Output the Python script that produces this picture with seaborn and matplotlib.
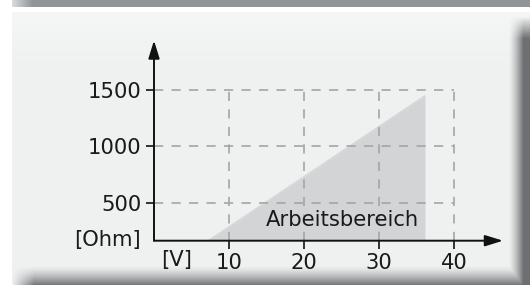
import seaborn as sns
import matplotlib.pyplot as plt
import numpy as np

# chart data
volts = [7.2, 36.1]          # working range, left / right edge [V]
ohm_top = [162.5, 1450]      # upper edge of the working range [Ohm]
x_ticks = [10, 20, 30, 40]
y_ticks = [500, 1000, 1500]
x_lim = (0, 46.5)
y_lim = (162.5, 1940)
x_unit = '[V]'
y_unit = '[Ohm]'
area_label = 'Arbeitsbereich'

sns.set_theme(style='white')
plt.rcParams['font.family'] = ['DejaVu Sans']
FS = 15.2

W, H = 530, 285
fig = plt.figure(figsize=(W / 100, H / 100), dpi=100)

# background: grey bar on top, light panel with soft shadow at bottom/right
bg = np.ones((H, W, 3))
yy, xx = np.mgrid[0:H, 0:W]
panel = np.array([0.941, 0.945, 0.945])
bg[12:, 12:] = panel
top_light = np.clip((60 - yy) / 60, 0, 1)[..., None] * 0.025
bg[12:, 12:] = np.clip(bg[12:, 12:] + top_light[12:, 12:], 0, 1)
# bottom shadow
sb = np.clip((yy - 265) / 20, 0, 1) ** 1.4
# right shadow
sr = np.clip((xx - 508) / 15, 0, 1) ** 1.4
sr = sr * np.clip((yy - 16) / 22, 0, 1)
sb = sb * np.clip((xx - 12) / 22, 0, 1)
shade = np.maximum(sb, sr)[..., None]
dark = np.array([0.43, 0.44, 0.45])
region = (yy >= 12) & (xx >= 12)
bg[region] = (bg * (1 - shade) + dark * shade)[region]
# top bar
bar = np.array([0.576, 0.588, 0.596])
gx = np.clip((xx - 12) / 20, 0, 1)[..., None]
bar_img = np.array([0.85, 0.86, 0.86]) * (1 - gx) + bar * gx
bg[0:7, 12:] = bar_img[0:7, 12:]

bax = fig.add_axes([0, 0, 1, 1], zorder=-1)
bax.imshow(bg, aspect='auto', interpolation='bilinear')
bax.axis('off')

ax = fig.add_axes([154 / W, 1 - 240.7 / H, 349 / W, 200.2 / H])
ax.patch.set_alpha(0)
ax.set_xlim(*x_lim)
ax.set_ylim(*y_lim)

# working range
ax.fill_between(volts, ohm_top, y_lim[0], color='#d2d4d5', lw=0, zorder=1)
sns.lineplot(x=volts, y=ohm_top, ax=ax, color='#d2d4d5', lw=0.8, zorder=1)

# dashed grid, limited to the 0..40 / ..1500 box
grid_kw = dict(color='#a3a5a6', lw=1.2, linestyles=(0, (5.5, 5)), zorder=2)
ax.hlines(y_ticks, 0, max(x_ticks), **grid_kw)
ax.vlines(x_ticks, y_lim[0], max(y_ticks), **grid_kw)

for s in ax.spines.values():
    s.set_visible(False)

ax.set_xticks(x_ticks)
ax.set_yticks(y_ticks)
ax.tick_params(axis='both', direction='out', length=6, width=1.3, color='#222222',
               labelsize=FS, labelcolor='#1a1a1a', pad=3, left=True, bottom=True)

# axes with arrow heads
arrow = dict(arrowstyle='-|>,head_length=0.9,head_width=0.28', color='#111111',
             lw=1.4, shrinkA=0, shrinkB=0)
ax.annotate('', xy=(1, 0), xytext=(0, 0), xycoords='axes fraction', arrowprops=arrow)
ax.annotate('', xy=(0, 1), xytext=(0, 0), xycoords='axes fraction', arrowprops=arrow)

ax.annotate(y_unit, xy=(0, y_lim[0]), xytext=(-13, 1), textcoords='offset pixels',
            ha='right', va='center', fontsize=FS, color='#1a1a1a')
ax.annotate(x_unit, xy=(3.0, y_lim[0]), xytext=(0, -9), textcoords='offset pixels',
            ha='center', va='top', fontsize=FS, color='#1a1a1a')
ax.text(25.1, 346, area_label, ha='center', va='center', fontsize=FS, color='#1a1a1a',
        zorder=3)

fig.savefig('out.png', dpi=100)
